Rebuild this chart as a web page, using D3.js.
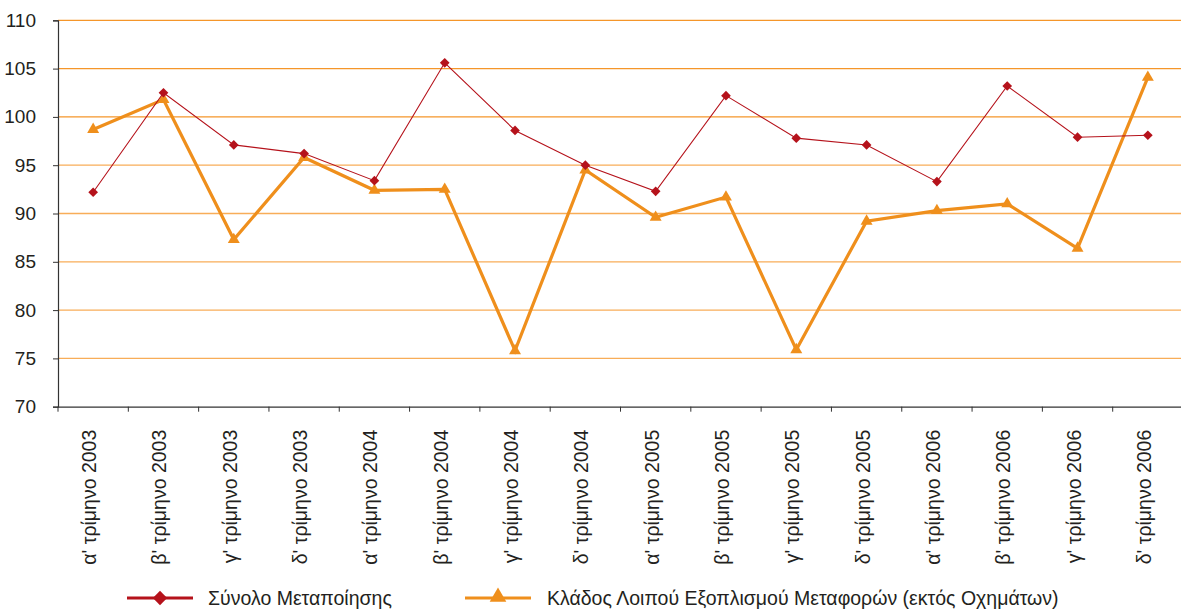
<!DOCTYPE html>
<html>
<head>
<meta charset="utf-8">
<script src="https://cdn.jsdelivr.net/npm/d3@7"></script>
<style>
  html, body { margin: 0; padding: 0; background: #fff; }
  svg { display: block; }
  text { font-family: "Liberation Sans Narrow", "Liberation Sans", sans-serif; fill: #231f20; }
</style>
</head>
<body>
<svg id="chart" width="1181" height="612"></svg>
<script>
// Quarter labels along the x axis
const categories = [
  "α' τρίμηνο 2003", "β' τρίμηνο 2003", "γ' τρίμηνο 2003", "δ' τρίμηνο 2003",
  "α' τρίμηνο 2004", "β' τρίμηνο 2004", "γ' τρίμηνο 2004", "δ' τρίμηνο 2004",
  "α' τρίμηνο 2005", "β' τρίμηνο 2005", "γ' τρίμηνο 2005", "δ' τρίμηνο 2005",
  "α' τρίμηνο 2006", "β' τρίμηνο 2006", "γ' τρίμηνο 2006", "δ' τρίμηνο 2006"
];

// Total manufacturing index
const totalManufacturing = [92.2, 102.5, 97.1, 96.2, 93.4, 105.6, 98.6, 95.0,
                            92.3, 102.2, 97.8, 97.1, 93.3, 103.2, 97.9, 98.1];

// Other transport equipment (excluding vehicles)
const transportEquipment = [98.7, 101.8, 87.3, 95.8, 92.4, 92.5, 75.8, 94.5,
                            89.6, 91.7, 75.9, 89.2, 90.3, 91.0, 86.4, 104.1];

const yTicks = [70, 75, 80, 85, 90, 95, 100, 105, 110];

const seriesNames = ["Σύνολο Μεταποίησης", "Κλάδος Λοιπού Εξοπλισμού Μεταφορών (εκτός Οχημάτων)"];

const svg = d3.select("#chart");
const margin = { left: 58, right: 0, top: 20.3, bottom: 205.3 };
const W = 1181, H = 612;
const plotW = 1125, plotH = H - margin.top - margin.bottom;

const x = d3.scaleBand().domain(categories).range([margin.left, margin.left + plotW]);
const y = d3.scaleLinear().domain([70, 110]).range([margin.top + plotH, margin.top]);

// horizontal gridlines
svg.append("g").selectAll("line")
  .data(yTicks.filter(t => t > 70))
  .join("line")
  .attr("x1", margin.left).attr("x2", W)
  .attr("y1", d => y(d)).attr("y2", d => y(d))
  .attr("stroke", d => d >= 100 ? "#f5962a" : "#f8ad58").attr("stroke-width", 1.3);

// y axis
const yAxis = svg.append("g")
  .attr("transform", `translate(${margin.left},0)`)
  .call(d3.axisLeft(y).tickValues(yTicks).tickSize(5).tickPadding(17));
yAxis.select(".domain").attr("stroke", "#333").attr("stroke-width", 1.2);
yAxis.selectAll(".tick line").attr("stroke", "#333");
yAxis.selectAll("text").attr("font-size", 19).style("font-family", "inherit").attr("fill", "#231f20");

// x axis
const xAxis = svg.append("g")
  .attr("transform", `translate(0,${y(70)})`)
  .call(d3.axisBottom(x).tickSize(0).tickPadding(0));
xAxis.select(".domain").attr("stroke", "#333").attr("stroke-width", 1.2);
xAxis.selectAll(".tick text").remove();
// tick marks on band boundaries
svg.append("g").selectAll("line")
  .data(categories.map(c => x(c)).concat([x(categories[categories.length - 1]) + x.bandwidth()]))
  .join("line")
  .attr("x1", d => d).attr("x2", d => d)
  .attr("y1", y(70)).attr("y2", y(70) + 5)
  .attr("stroke", "#333");

// rotated category labels
svg.append("g").selectAll("text")
  .data(categories)
  .join("text")
  .attr("transform", d => `translate(${x(d) + x.bandwidth() / 2 + 3},${y(70) + 23}) rotate(-90)`)
  .attr("text-anchor", "end")
  .attr("font-size", 19.5)
  .text(d => d);

const line = d3.line()
  .x((d, i) => x(categories[i]) + x.bandwidth() / 2)
  .y(d => y(d));

const red = "#b5121b";
const orange = "#ef8f1c";

// orange series line and triangle markers
svg.append("path")
  .datum(transportEquipment)
  .attr("d", line)
  .attr("fill", "none")
  .attr("stroke", orange)
  .attr("stroke-width", 3.2)
  .attr("stroke-linejoin", "miter");

const tri = d3.symbol().type(d3.symbolTriangle).size(62);
svg.append("g").selectAll("path")
  .data(transportEquipment)
  .join("path")
  .attr("d", tri)
  .attr("transform", (d, i) => `translate(${x(categories[i]) + x.bandwidth() / 2},${y(d)})`)
  .attr("fill", orange);

// red series line and diamond markers
svg.append("path")
  .datum(totalManufacturing)
  .attr("d", line)
  .attr("fill", "none")
  .attr("stroke", red)
  .attr("stroke-width", 1.1);

const diamond = d3.symbol().type(d3.symbolDiamond2).size(60);
svg.append("g").selectAll("path")
  .data(totalManufacturing)
  .join("path")
  .attr("d", diamond)
  .attr("transform", (d, i) => `translate(${x(categories[i]) + x.bandwidth() / 2},${y(d)})`)
  .attr("fill", red);

// legend
const legendY = 598;
const lg = svg.append("g");
lg.append("line").attr("x1", 127).attr("x2", 193).attr("y1", legendY).attr("y2", legendY)
  .attr("stroke", red).attr("stroke-width", 3);
lg.append("path").attr("d", d3.symbol().type(d3.symbolDiamond2).size(130))
  .attr("transform", `translate(160,${legendY})`).attr("fill", red);
lg.append("text").attr("x", 208).attr("y", legendY + 7).attr("font-size", 19.5).text(seriesNames[0]);

lg.append("line").attr("x1", 465).attr("x2", 531).attr("y1", legendY).attr("y2", legendY)
  .attr("stroke", orange).attr("stroke-width", 3);
lg.append("path").attr("d", d3.symbol().type(d3.symbolTriangle).size(120))
  .attr("transform", `translate(498,${legendY - 1})`).attr("fill", orange);
lg.append("text").attr("x", 547).attr("y", legendY + 7).attr("font-size", 19.5).text(seriesNames[1]);
</script>
</body>
</html>
